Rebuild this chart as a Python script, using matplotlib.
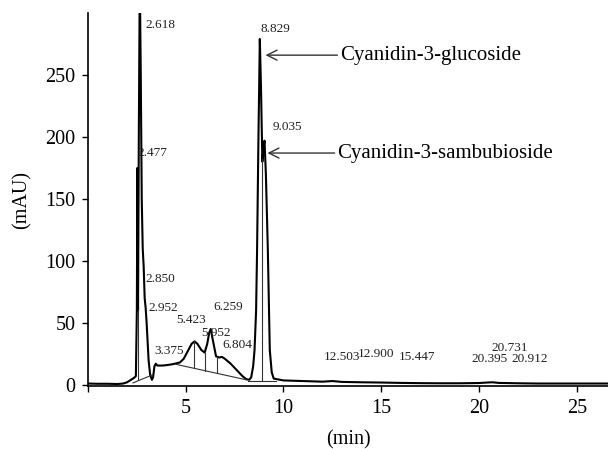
import matplotlib
matplotlib.use("Agg")
import matplotlib.pyplot as plt

plt.rcParams["font.family"] = ["Liberation Serif", "DejaVu Serif"]

# chromatogram trace (min, mAU)
time_min = [0.0, 0.5, 1.0, 1.5, 1.8, 2.0, 2.2, 2.35, 2.45, 2.50, 2.53, 2.56,
            2.60, 2.65, 2.70, 2.75, 2.80, 2.85, 2.90, 2.95, 3.00, 3.05, 3.10,
            3.18, 3.27, 3.33, 3.40, 3.47, 3.55, 3.8, 4.0, 4.3, 4.5, 4.7, 4.9,
            5.1, 5.3, 5.45, 5.6, 5.8, 5.97, 6.1, 6.2, 6.28, 6.4, 6.55, 6.7,
            6.85, 7.0, 7.3, 7.6, 7.9, 8.1, 8.25, 8.35, 8.45, 8.52, 8.6, 8.65,
            8.72, 8.79, 8.85, 8.92, 8.97, 9.03, 9.1, 9.2, 9.3, 9.4, 9.5, 10.0,
            11.0, 12.0, 12.5, 13.0, 14.0, 15.0, 16.0, 17.0, 18.0, 19.0, 20.0,
            20.4, 20.7, 21.0, 22.0, 23.0, 24.0, 25.0, 26.0, 26.7]
absorb_mau = [1.0, 0.8, 0.8, 0.6, 1.0, 2.0, 4.0, 5.5, 7.0, 60, 175, 60,
              200, 330, 250, 150, 110, 95, 70, 62, 50, 35, 20,
              8, 4, 6, 15, 17, 15.5, 15.5, 15.8, 16.5, 17.2, 18, 21,
              27, 33, 35, 33, 28, 26, 33, 42, 45, 35, 23, 22,
              22.5, 21, 17, 12, 7, 4.5, 4, 6, 15, 28, 60, 109,
              200, 279, 240, 180, 190, 197, 170, 109, 28, 10, 5, 3.5,
              3, 2.5, 3, 2.3, 2, 1.8, 1.5, 1.3, 1.2, 1.2, 1.4,
              1.8, 2, 1.5, 1.2, 1.0, 1.0, 1.0, 1.0, 1.0]

# integration baselines and drop lines (t0, v0, t1, v1)
base_segments = [
    (2.30, 1.5, 3.30, 8.0),
    (4.50, 16.5, 8.10, 4.0),
    (8.20, 3.0, 9.60, 3.0),
    (5.42, 13.3, 5.42, 35.0),
    (5.97, 11.4, 5.97, 26.0),
    (6.58, 9.3, 6.58, 22.5),
    (8.92, 3.0, 8.92, 182.0),
    (2.56, 5.0, 2.56, 60.0),
]

peak_labels = ["2.618", "2.477", "8.829", "9.035", "2.850", "2.952", "5.423",
               "6.259", "5.952", "6.804", "3.375", "12.503", "12.900",
               "15.447", "20.731", "20.395", "20.912"]
label_xy = [(2.96, 290), (2.55, 187), (8.83, 287), (9.44, 208), (2.96, 85),
            (3.11, 62), (4.54, 52), (6.43, 63), (5.77, 42), (6.89, 32),
            (3.42, 27), (12.04, 22.6), (13.78, 25), (15.92, 22.6),
            (20.62, 30), (19.64, 21), (21.68, 21)]

compound_names = ["Cyanidin-3-glucoside", "Cyanidin-3-sambubioside"]
compound_peak = [(9.08, 266), (9.18, 187)]
compound_text = [(12.9, 266), (12.76, 187)]

fig = plt.figure(figsize=(6.08, 4.49), dpi=100)
ax = fig.add_axes([0.1447, 0.1403, 0.8553, 0.8307])

ax.plot(time_min, absorb_mau, color="black", lw=1.5, clip_on=True)
for t0, v0, t1, v1 in base_segments:
    ax.plot([t0, t1], [v0, v1], color="#333333", lw=0.8)

for lab, (x, y) in zip(peak_labels, label_xy):
    ax.text(x, y, lab, fontsize=9.5, ha="left", va="center", color="#222222")

for name, pk, tx in zip(compound_names, compound_peak, compound_text):
    ax.annotate(name, xy=pk, xytext=tx, fontsize=15, va="center",
                ha="left",
                arrowprops=dict(arrowstyle="->", color="#333333", lw=1.0,
                                shrinkA=0, shrinkB=0, mutation_scale=18))

ax.set_xlim(0, 26.6)
ax.set_ylim(-1, 300)
ax.set_xticks([0, 5, 10, 15, 20, 25])
ax.set_xticklabels(["", "5", "10", "15", "20", "25"])
ax.set_yticks([0, 50, 100, 150, 200, 250])
ax.tick_params(labelsize=14.5, direction="out", length=4, width=1, pad=5)
for side in ["top", "right"]:
    ax.spines[side].set_visible(False)
ax.spines["left"].set_linewidth(1.2)
ax.spines["bottom"].set_linewidth(1.2)

ax.set_xlabel("(min)", fontsize=14.5, labelpad=9)
ax.set_ylabel("(mAU)", fontsize=14.5, labelpad=10)

fig.savefig("out.png", dpi=100)
